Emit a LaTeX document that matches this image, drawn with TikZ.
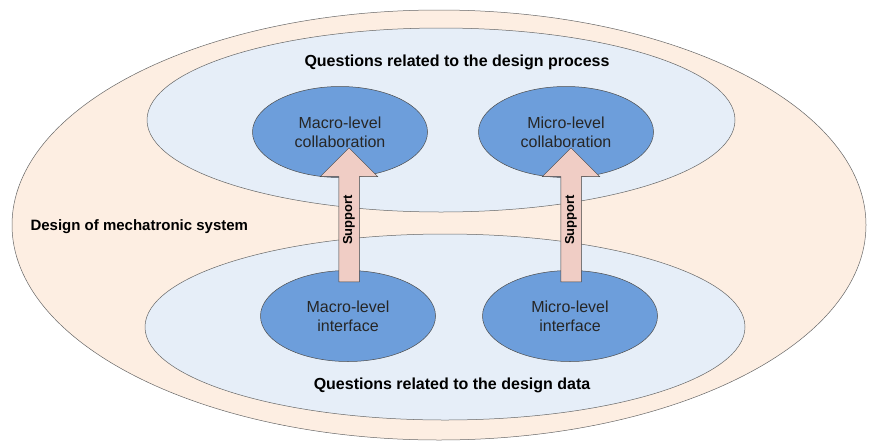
\documentclass[tikz,border=0pt]{standalone}
\usepackage{fontspec}
\setmainfont{Liberation Sans}
\usetikzlibrary{shapes.geometric,shapes.arrows,calc}
\definecolor{peach}{HTML}{FDEEE2}
\definecolor{paleblue}{HTML}{E6EEF8}
\definecolor{midblue}{HTML}{6D9EDB}
\definecolor{rose}{HTML}{F0CDC5}

\begin{document}
\begin{tikzpicture}[x=1pt, y=-1pt,
  zone/.style={ellipse, draw=gray!80!black, line width=0.5pt, inner sep=0pt, fill=paleblue},
  topic/.style={ellipse, draw=gray!60!black, line width=0.5pt, fill=midblue, inner sep=0pt,
    minimum width=175pt, minimum height=91pt, align=center,
    font=\fontsize{16}{19}\selectfont, text=black!85},
  support/.style={single arrow, draw=black!75, line width=0.5pt, fill=rose, rotate=90,
    minimum height=134pt, single arrow head extend=18.5pt, single arrow head indent=0pt,
    inner xsep=0pt, inner ysep=4pt, text height=9pt, text depth=3pt,
    font=\fontsize{13}{15}\selectfont\bfseries},
  heading/.style={font=\fontsize{16}{19}\selectfont\bfseries}]
\useasboundingbox (0,0) rectangle (869,442);
% Zones
\node[zone, fill=peach, minimum width=854pt, minimum height=430pt] (system) at (439,225) {};
\node[zone, minimum width=588pt, minimum height=184pt] (process) at (441,120) {};
\node[zone, minimum width=600pt, minimum height=186pt] (data) at (445,327) {};
% Labels
\node[heading, font=\fontsize{15}{18}\selectfont\bfseries, anchor=west] (systemlabel) at (27,227) {Design of mechatronic system};
\node[heading] (processlabel) at (457,62) {Questions related to the design process};
\node[heading] (datalabel) at (452,385) {Questions related to the design data};
% Topics
\foreach \name/\x/\y/\first/\second in {macrocol/340/132/Macro-level/collaboration,
  microcol/566/132/Micro-level/collaboration, macroint/348/316/Macro-level/interface,
  microint/570/316/Micro-level/interface} {
  \node[topic] (\name) at (\x,\y) {\first\\\second};
}
% Support arrows
\foreach \lower/\name in {macroint/supmacro, microint/supmicro} {
  \node[support] (\name) at ($(\lower.center)+(1,-96)$) {Support};
}
\end{tikzpicture}
\end{document}
